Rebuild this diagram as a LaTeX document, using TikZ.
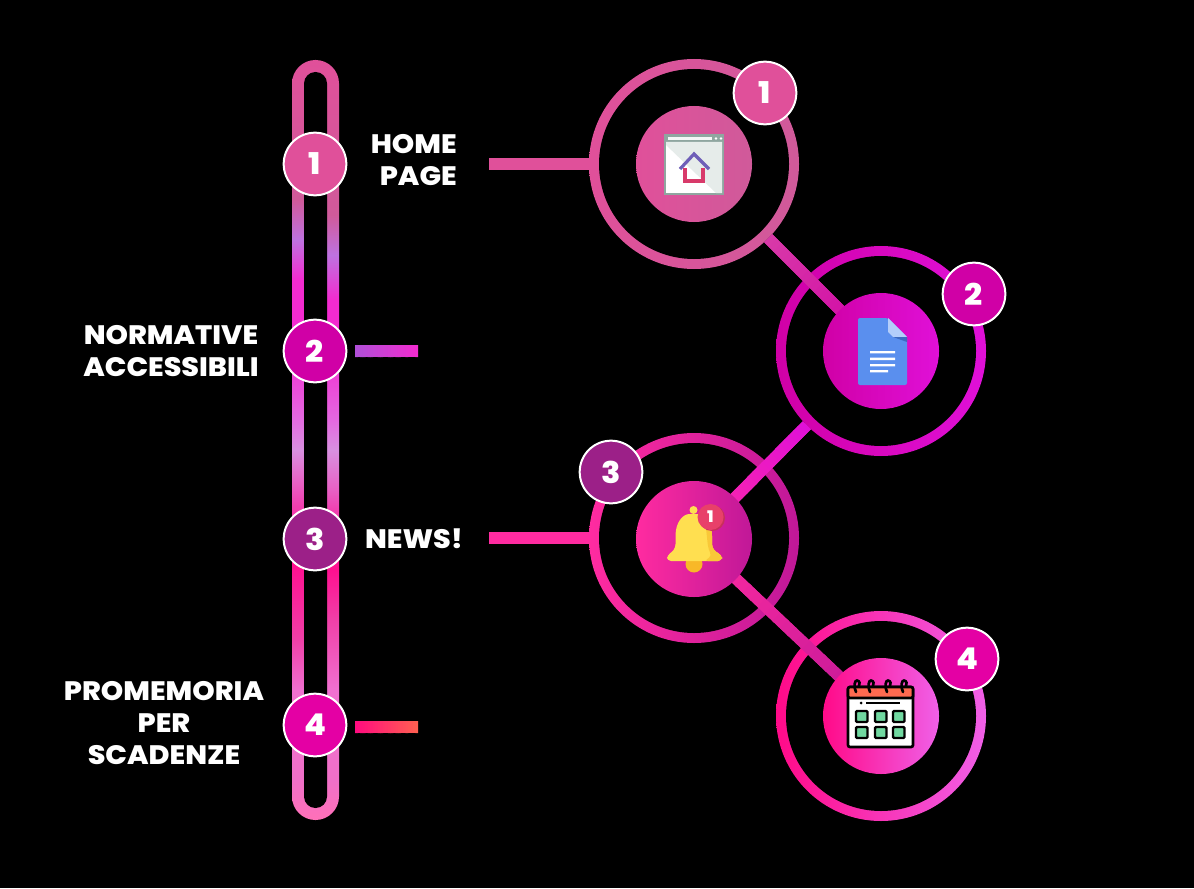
\documentclass[tikz,border=0pt]{standalone}
\usepackage{fontspec}
\setmainfont{Poppins}
\newfontfamily\labfont[FakeStretch=1.07]{Poppins ExtraBold}
\newfontfamily\numfont[FakeStretch=1.06]{Poppins ExtraBold}
\usetikzlibrary{calc,backgrounds}
\definecolor{cRose}{HTML}{E0509A}
\definecolor{cRoseD}{HTML}{D05A9A}
\definecolor{cLav}{HTML}{BE72E0}
\definecolor{cHot}{HTML}{F32BD0}
\definecolor{cOrch}{HTML}{E468E0}
\definecolor{cPale}{HTML}{D890E0}
\definecolor{cMidP}{HTML}{E860C4}
\definecolor{cPk}{HTML}{F040B0}
\definecolor{cDeep}{HTML}{FF1090}
\definecolor{cPk2}{HTML}{F040A8}
\definecolor{cPk3}{HTML}{F070D0}
\definecolor{cPk4}{HTML}{F070C8}
\definecolor{cPk5}{HTML}{FF70B8}
\definecolor{cMag}{HTML}{D000A6}
\definecolor{cMagR}{HTML}{E010D8}
\definecolor{cPlum}{HTML}{9C2088}
\definecolor{cNews}{HTML}{FF2BA0}
\definecolor{cNewsR}{HTML}{C01898}
\definecolor{cCal}{HTML}{FF0A88}
\definecolor{cCalR}{HTML}{F060E8}
\definecolor{cBadgeF}{HTML}{E400A4}
\definecolor{cStubL}{HTML}{B050D8}
\definecolor{cStub}{HTML}{FF0A80}
\definecolor{cStubR}{HTML}{FF6050}
\definecolor{cLinkA}{HTML}{D83AA8}
\definecolor{icFrame}{HTML}{8FA6A0}
\definecolor{icPane}{HTML}{E6ECEA}
\definecolor{icBar}{HTML}{F4F7F6}
\definecolor{icRed}{HTML}{D83A6A}
\definecolor{icPurp}{HTML}{6F5FB8}
\definecolor{icDoc}{HTML}{5A8FEE}
\definecolor{icFold}{HTML}{B4CEFA}
\definecolor{icFoldD}{HTML}{3D6AC0}
\definecolor{icClap}{HTML}{F8B828}
\definecolor{icBell}{HTML}{FFDF50}
\definecolor{icBellD}{HTML}{F9C838}
\definecolor{icBadS}{HTML}{C8305A}
\definecolor{icBad}{HTML}{E8406A}
\definecolor{icHead}{HTML}{FF6A50}
\definecolor{icGreen}{HTML}{70D8A0}
\pgfdeclareverticalshading{railL}{100bp}{color(0bp)=(cPk5);color(25bp)=(cPk5);color(27.63bp)=(cPk4);color(33.55bp)=(cPk3);color(36.84bp)=(cPk2);color(41.78bp)=(cDeep);color(45.72bp)=(cPk);color(47.17bp)=(cMidP);color(49.34bp)=(cPale);color(51.51bp)=(cOrch);color(55.92bp)=(cHot);color(60.53bp)=(cHot);color(63.16bp)=(cLav);color(65.79bp)=(cRoseD);color(75bp)=(cRose);color(100bp)=(cRose)}
\pgfdeclareverticalshading{railR}{100bp}{color(0bp)=(cPk5);color(25bp)=(cPk5);color(27.63bp)=(cPk4);color(33.55bp)=(cPk3);color(38.16bp)=(cPk2);color(41.45bp)=(cDeep);color(45.39bp)=(cPk);color(46.71bp)=(cMidP);color(49.34bp)=(cPale);color(51.32bp)=(cOrch);color(55.92bp)=(cHot);color(59.21bp)=(cHot);color(62.17bp)=(cLav);color(64.80bp)=(cRoseD);color(75bp)=(cRose);color(100bp)=(cRose)}
\pgfdeclarelayer{ringlayer}
\pgfdeclarelayer{connlayer}
\pgfsetlayers{ringlayer,connlayer,main}
\tikzset{
  ringo/.style={circle,inner sep=0pt,outer sep=0pt,minimum size=157.5pt},
  hole/.style={circle,inner sep=0pt,outer sep=0pt,minimum size=142.5pt,fill=black},
  disc/.style={circle,inner sep=0pt,outer sep=0pt,minimum size=87pt},
  shRose/.style={left color=cRose,right color=cRoseD},
  shMag/.style={left color=cMag,middle color=cMag!70!cMagR,right color=cMagR},
  shNews/.style={left color=cNews,middle color=cNews!88!cNewsR,right color=cNewsR},
  shCal/.style={left color=cCal,middle color=cCal!90!cCalR,right color=cCalR},
  badge/.style={circle,inner sep=0pt,outer sep=0pt,minimum size=47pt,draw=white,line width=1.5pt,text=white,font=\numfont\fontsize{22.5}{24}\selectfont},
  label/.style={text=white,inner sep=0pt,font=\labfont\fontsize{20}{24}\selectfont,align=center},
  conn/.style={line width=#1,line cap=butt},
  conn/.default=8.5pt
}
\newcommand{\gradconn}[5]{%
  \draw[conn=#5,color=#3!50!#4] (#1) -- (#2);
  \foreach \i in {0,...,24}{%
    \pgfmathsetmacro{\sA}{\i/25}\pgfmathsetmacro{\sB}{min(1,(\i+1.2)/25)}\pgfmathtruncatemacro{\pc}{(\i+0.5)*4}%
    \draw[conn=#5,color=#4!\pc!#3] ($(#1)!\sA!(#2)$) -- ($(#1)!\sB!(#2)$);}%
}
\begin{document}
\begin{tikzpicture}[x=0.75pt,y=-0.75pt]
\useasboundingbox (0,0) rectangle (1194,888);
% rail
\begin{scope}
  \clip[rounded corners=17.6pt] (292,60) rectangle (339,820);
  \shade[shading=railL] (292,60) rectangle (315.6,820);
  \shade[shading=railR] (315.4,60) rectangle (339,820);
\end{scope}
\fill[black,rounded corners=8.6pt] (304,72) rectangle (327,808);
% rings
\begin{pgfonlayer}{ringlayer}
  \fill[black] (0,0) rectangle (1194,888);
  \node[ringo,shRose] (ring1) at (694,164) {};
  \node[hole] at (694,164) {};
  \node[ringo,shMag] (ring2) at (881,351) {};
  \node[hole] at (881,351) {};
  \node[ringo,shNews] (ring3) at (694,538) {};
  \node[hole] at (694,538) {};
  \node[ringo,shCal] (ring4) at (881,716) {};
  \node[hole] at (881,716) {};
\end{pgfonlayer}
% discs
\node[disc,shRose] (disc1) at (694,164) {};
\node[disc,shMag] (disc2) at (881,351) {};
\node[disc,shNews] (disc3) at (694,539) {};
\node[disc,shCal] (disc4) at (881,716) {};
% connectors
\coordinate (s1) at (489,164);
\coordinate (s3) at (489,538);
\coordinate (s2a) at (355,351);
\coordinate (s2b) at (418,351);
\coordinate (s4a) at (355,727);
\coordinate (s4b) at (418,727);
\begin{pgfonlayer}{connlayer}
  \gradconn{ring1.-45}{disc2.center}{cLinkA}{cMag}{8.5pt}
  \gradconn{ring2.-135}{disc3.center}{cMagR}{cNews}{8.5pt}
  \gradconn{disc3.center}{disc4.center}{cNews}{cNewsR}{8.5pt}
\end{pgfonlayer}
\draw[conn=9pt,cRose] (s1) -- (ring1.west);
\draw[conn=9pt,cNews] (s3) -- (ring3.west);
\gradconn{s2a}{s2b}{cStubL}{cHot}{9pt}
\gradconn{s4a}{s4b}{cStub}{cStubR}{9pt}
% left badges
\node[badge,fill=cRose] (l1) at (315,164) {1};
\node[badge,fill=cMag] (l2) at (315,351) {2};
\node[badge,fill=cPlum] (l3) at (315,539) {3};
\node[badge,fill=cBadgeF] (l4) at (315,725) {4};
% right badges
\node[badge,fill=cRose] (r1) at (765,93) {1};
\node[badge,fill=cMag] (r2) at (974,294) {2};
\node[badge,fill=cPlum] (r3) at (611,472) {3};
\node[badge,fill=cBadgeF] (r4) at (967,659) {4};
% labels
\node[label,align=right,anchor=east] (t1) at (457,160) {HOME\\PAGE};
\node[label] (t2) at (171,351) {NORMATIVE\\ACCESSIBILI};
\node[label] (t3) at (414,539) {NEWS!};
\node[label] (t4) at (164,723) {PROMEMORIA\\PER\\SCADENZE};
% icon 1: browser
\fill[icFrame] (664,134) rectangle (724,195);
\fill[white] (666,142) rectangle (722,193);
\fill[icPane] (666,142) -- (722,142) -- (722,193) -- (716,193) -- (666,145) -- cycle;
\fill[icBar] (668,137) rectangle (712,140);
\fill[white] (716,138.5) circle (1.3) (721,138.5) circle (1.3);
\draw[icRed,line width=2.4pt] (685,168) -- (685,181) -- (703,181) -- (703,168);
\draw[icPurp,line width=2.4pt] (680,169) -- (694,154) -- (709,169);
% icon 2: document
\fill[icDoc,rounded corners=1.5pt] (858,318) -- (888,318) -- (907,337) -- (907,385) -- (858,385) -- cycle;
\fill[icFold] (888,318) -- (907,337) -- (893,337) -- (888,332) -- cycle;
\fill[icFoldD] (893,337) -- (907,337) -- (907,342) -- cycle;
\fill[white] (870,351) rectangle (895,353.4) (870,357.7) rectangle (895,360) (870,364) rectangle (895,366.4) (870,370) rectangle (888,372.4);
% icon 3: bell
\fill[icClap] (694,564) circle (8.5);
\fill[icBell] (693.5,510) circle (4);
\fill[icBell,rounded corners=3pt] (667,561) -- (667,555) .. controls (672,552) and (675.5,549) .. (675.5,540) .. controls (675.5,522) and (683,514) .. (693.5,514) .. controls (704,514) and (712,522) .. (712,540) .. controls (712,549) and (716,552) .. (722,555) -- (722,561) -- cycle;
\fill[icBellD,rounded corners=3pt] (704,561) -- (712,556) .. controls (706,545) and (708,530) .. (702,517) .. controls (708,519) and (712,526) .. (712,540) .. controls (712,549) and (716,552) .. (722,555) -- (722,561) -- cycle;
\fill[icBadS] (712,518) circle (13);
\fill[icBad] (710.5,517) circle (13);
\node[inner sep=0pt,text=white,font=\numfont\fontsize{12}{12}\selectfont] (bell1) at (710.5,517) {1};
% icon 4: calendar
\fill[white,draw=black,line width=2pt,rounded corners=1.5pt] (848,687) rectangle (913,747);
\fill[icHead,draw=black,line width=2pt,rounded corners=1.5pt] (848,687) rectangle (913,698);
\foreach \hx in {857,871,888,904}{
  \draw[black,line width=2pt,line cap=round] (\hx-1,692) .. controls (\hx-4,686) and (\hx-2,680) .. (\hx,680.5) .. controls (\hx+3,681) and (\hx+3,684) .. (\hx+2,686);
}
\fill[black] (861,703) circle (1.5);
\draw[black,line width=1.4pt] (866,703) -- (900,703);
\foreach \gx in {856,875,893}{
  \foreach \gy in {711,727}{
    \fill[icGreen,draw=black,line width=1.8pt,rounded corners=.8pt] (\gx,\gy) rectangle (\gx+11.5,\gy+11);
  }
}
\end{tikzpicture}
\end{document}
